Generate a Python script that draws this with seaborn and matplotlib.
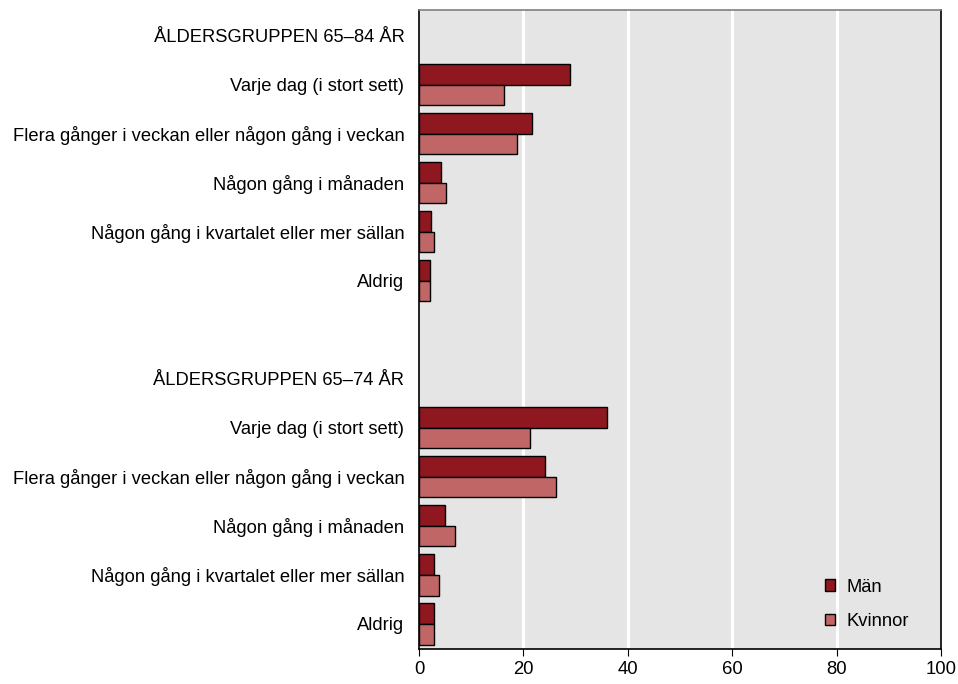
import pandas as pd
import matplotlib.pyplot as plt
import seaborn as sns

# Rader i diagrammet (rubriker och tom rad saknar staplar)
row_keys = ["h1", "a1", "a2", "a3", "a4", "a5", "blank",
            "h2", "b1", "b2", "b3", "b4", "b5"]
row_labels = ["ÅLDERSGRUPPEN 65–84 ÅR", "Varje dag (i stort sett)",
              "Flera gånger i veckan eller någon gång i veckan",
              "Någon gång i månaden",
              "Någon gång i kvartalet eller mer sällan", "Aldrig", "",
              "ÅLDERSGRUPPEN 65–74 ÅR", "Varje dag (i stort sett)",
              "Flera gånger i veckan eller någon gång i veckan",
              "Någon gång i månaden",
              "Någon gång i kvartalet eller mer sällan", "Aldrig"]

keys_84 = ["a1", "a2", "a3", "a4", "a5"]
keys_74 = ["b1", "b2", "b3", "b4", "b5"]
man_84 = [28.9, 21.6, 4.3, 2.3, 2.1]
kvinnor_84 = [16.2, 18.8, 5.2, 2.8, 2.1]
man_74 = [36.1, 24.1, 5.0, 2.9, 2.8]
kvinnor_74 = [21.3, 26.3, 6.9, 3.8, 2.8]

series = ["Män", "Kvinnor"]
colors = ["#8f1720", "#c06666"]

rows = []
for keys, m, k in [(keys_84, man_84, kvinnor_84), (keys_74, man_74, kvinnor_74)]:
    for key, vm, vk in zip(keys, m, k):
        rows.append({"rad": key, "kön": "Män", "andel": vm})
        rows.append({"rad": key, "kön": "Kvinnor", "andel": vk})
df = pd.DataFrame(rows)

plt.rcParams['font.family'] = ['Liberation Sans', 'DejaVu Sans']
fig = plt.figure(figsize=(9.58, 6.84), dpi=100)
ax = fig.add_axes([0.4374, 0.0519, 0.5449, 0.9335])
ax.set_facecolor("#e5e5e5")

sns.barplot(data=df, y="rad", x="andel", hue="kön", order=row_keys,
            hue_order=series, palette=colors, saturation=1, orient="h",
            width=0.84, edgecolor="black", linewidth=1, ax=ax, errorbar=None)

ax.set_xlim(0, 100)
ax.set_ylim(12.5, -0.52)
ax.set_xticks([0, 20, 40, 60, 80, 100])
ax.set_xticklabels(["0", "20", "40", "60", "80", "100"], fontsize=13.3)
ax.set_yticks(range(len(row_keys)))
ax.set_yticklabels(row_labels, fontsize=13.25)
ax.tick_params(axis="y", length=0, pad=10.5)
ax.tick_params(axis="x", length=5, direction="out", color="black", pad=4)
ax.set_xlabel("")
ax.set_ylabel("")

for v in [20, 40, 60, 80]:
    ax.axvline(v, color="white", linewidth=2.2, zorder=0)

for side in ["left", "right", "bottom"]:
    ax.spines[side].set_color("black")
    ax.spines[side].set_linewidth(1.2)
ax.spines["top"].set_color("#808080")
ax.spines["top"].set_linewidth(1.2)

ax.legend(loc="lower right", bbox_to_anchor=(0.97, 0.003), frameon=False,
          fontsize=13.25, handlelength=0.55, handleheight=0.55,
          handletextpad=0.6, labelspacing=0.95)

fig.savefig("out.png", dpi=100)
